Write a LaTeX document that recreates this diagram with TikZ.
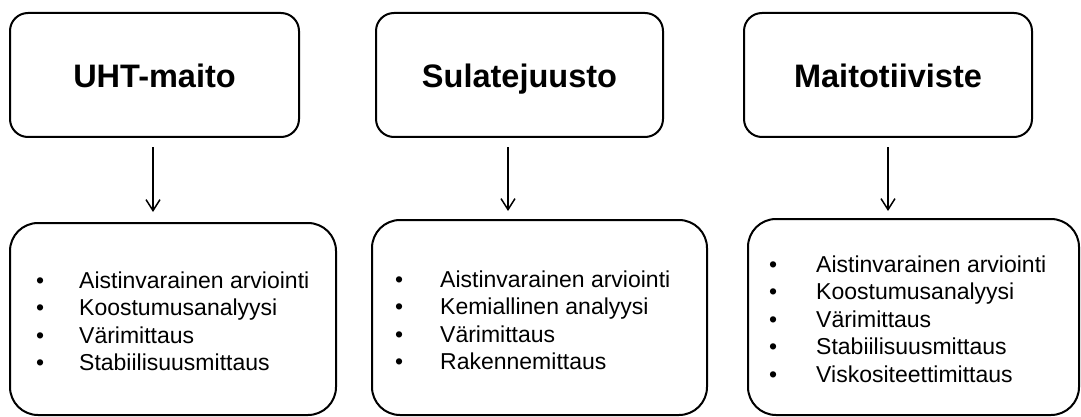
\documentclass[tikz,border=0pt]{standalone}
\usepackage{fontspec}
\setmainfont{Liberation Sans}
\usetikzlibrary{arrows.meta}
\newcommand{\bul}[1]{\makebox[#1][l]{•}}
\begin{document}
\begin{tikzpicture}[x=1pt,y=-1pt,
  topbox/.style={draw, line width=2pt, rounded corners=18pt, minimum height=124pt, inner sep=0pt,
    text height=26pt, text depth=0pt,
    font=\fontsize{32.5}{39}\selectfont\bfseries},
  botbox/.style={draw, line width=2pt, rounded corners=28pt, inner sep=0pt},
  listnode/.style={anchor=base west, inner sep=0pt, font=\fontsize{23}{27.5}\selectfont},
  arr/.style={line width=1.5pt, -{Straight Barb[length=11pt,width=14pt,line width=1.5pt]}}]
\useasboundingbox (0,0) rectangle (1081,417);
% top boxes
\node[topbox, minimum width=289pt] (t1) at (154.5,75) {UHT-maito};
\node[topbox, minimum width=287pt] (t2) at (519.5,75) {Sulatejuusto};
\node[topbox, minimum width=288pt] (t3) at (888,75) {Maitotiiviste};
% bottom boxes
\node[botbox, minimum width=326pt, minimum height=192pt] (b1) at (173,319) {};
\node[botbox, minimum width=335pt, minimum height=195pt] (b2) at (539.5,317.5) {};
\node[botbox, minimum width=331pt, minimum height=196pt] (b3) at (913.5,317) {};
% lists
\node[listnode] (l1) at (36,288) {\begin{tabular}[t]{@{}l@{}l@{}}
\bul{43pt} & Aistinvarainen arviointi\\
\bul{43pt} & Koostumusanalyysi\\
\bul{43pt} & Värimittaus\\
\bul{43pt} & Stabiilisuusmittaus
\end{tabular}};
\node[listnode] (l2) at (395,287) {\begin{tabular}[t]{@{}l@{}l@{}}
\bul{45pt} & Aistinvarainen arviointi\\
\bul{45pt} & Kemiallinen analyysi\\
\bul{45pt} & Värimittaus\\
\bul{45pt} & Rakennemittaus
\end{tabular}};
\node[listnode] (l3) at (769,272) {\begin{tabular}[t]{@{}l@{}l@{}}
\bul{47pt} & Aistinvarainen arviointi\\
\bul{47pt} & Koostumusanalyysi\\
\bul{47pt} & Värimittaus\\
\bul{47pt} & Stabiilisuusmittaus\\
\bul{47pt} & Viskositeettimittaus
\end{tabular}};
% arrows
\coordinate (a1s) at (153,147); \coordinate (a1e) at (153,212);
\coordinate (a2s) at (508,147); \coordinate (a2e) at (508,211);
\coordinate (a3s) at (888,147); \coordinate (a3e) at (888,211);
\draw[arr] (a1s) -- (a1e);
\draw[arr] (a2s) -- (a2e);
\draw[arr] (a3s) -- (a3e);
\end{tikzpicture}
\end{document}
